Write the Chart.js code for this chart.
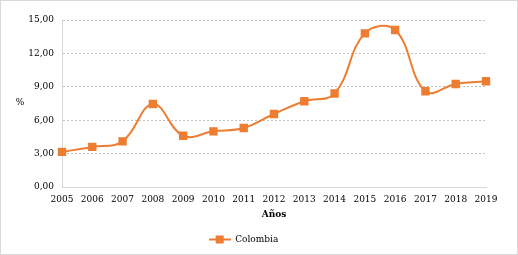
<!DOCTYPE html>
<html>
<head>
<meta charset="utf-8">
<script src="https://cdn.jsdelivr.net/npm/chart.js@4/dist/chart.umd.min.js"></script>
<style>
  html, body { margin: 0; padding: 0; background: #fff; }
  #wrap { width: 518px; height: 255px; box-sizing: border-box; border: 1px solid #d9d9d9; position: relative; }
  canvas { display: block; }
</style>
</head>
<body>
<div id="wrap"><canvas id="c" width="516" height="253"></canvas></div>
<script>
const years = ['2005', '2006', '2007', '2008', '2009', '2010', '2011', '2012', '2013', '2014', '2015', '2016', '2017', '2018', '2019'];
const colombia = [3.15, 3.6, 4.1, 7.45, 4.6, 5.0, 5.3, 6.56, 7.7, 8.4, 13.8, 14.1, 8.6, 9.25, 9.5];
const yTicks = [0, 3, 6, 9, 12, 15];

const ORANGE = '#ED7D31';
const FONT = "Georgia, 'DejaVu Serif', serif";

// legend marker: short line with a square in the middle
function legendMarker() {
  const cv = document.createElement('canvas');
  cv.width = 22; cv.height = 9;
  const g = cv.getContext('2d');
  g.strokeStyle = ORANGE; g.lineWidth = 2;
  g.beginPath(); g.moveTo(0, 4.5); g.lineTo(22, 4.5); g.stroke();
  g.fillStyle = ORANGE;
  g.fillRect(7, 0.5, 8, 8);
  return cv;
}

const percentLabel = {
  id: 'percentLabel',
  afterDraw(chart) {
    const ctx = chart.ctx;
    ctx.save();
    ctx.font = '9px ' + FONT;
    ctx.fillStyle = '#000';
    ctx.textAlign = 'center';
    ctx.textBaseline = 'middle';
    ctx.fillText('%', 19, 102);
    ctx.restore();
  }
};

new Chart(document.getElementById('c'), {
  type: 'line',
  data: {
    labels: years,
    datasets: [{
      label: 'Colombia',
      data: colombia,
      borderColor: ORANGE,
      backgroundColor: ORANGE,
      borderWidth: 2,
      tension: 0.4,
      pointStyle: 'rect',
      pointRadius: 4.5,
      pointHoverRadius: 4.5,
      fill: false
    }]
  },
  options: {
    responsive: false,
    animation: false,
    events: [],
    layout: { padding: { top: 19, right: 31, left: 0, bottom: 0 } },
    plugins: {
      tooltip: { enabled: false },
      legend: {
        position: 'bottom',
        labels: {
          usePointStyle: true,
          pointStyleWidth: 22,
          boxHeight: 9,
          padding: 11,
          color: '#000',
          font: { family: FONT, size: 9 },
          generateLabels: chart => [{
            text: 'Colombia',
            pointStyle: legendMarker(),
            fillStyle: ORANGE,
            strokeStyle: ORANGE,
            lineWidth: 0,
            datasetIndex: 0
          }]
        }
      }
    },
    scales: {
      x: {
        offset: false,
        grid: { display: false, drawTicks: false },
        border: { display: true, color: '#d9d9d9', width: 1 },
        ticks: { color: '#000', font: { family: FONT, size: 9 }, padding: 7, maxRotation: 0, autoSkip: false },
        title: { display: true, text: 'Años', color: '#000', font: { family: FONT, size: 9, weight: 'bold' }, padding: { top: 2, bottom: 4 } },
        afterFit: s => { s.height = 37; }
      },
      y: {
        min: 0,
        max: 15,
        afterBuildTicks: s => { s.ticks = yTicks.map(v => ({ value: v })); },
        grid: { color: '#c0c0c0', drawTicks: false },
        border: { display: true, color: '#d9d9d9', width: 1, dash: [2, 2] },
        ticks: {
          color: '#000',
          font: { family: FONT, size: 9 },
          padding: 8,
          callback: v => v.toFixed(2).replace('.', ',')
        },
        afterFit: s => { s.width = 61; }
      }
    }
  },
  plugins: [percentLabel]
});
</script>
</body>
</html>
